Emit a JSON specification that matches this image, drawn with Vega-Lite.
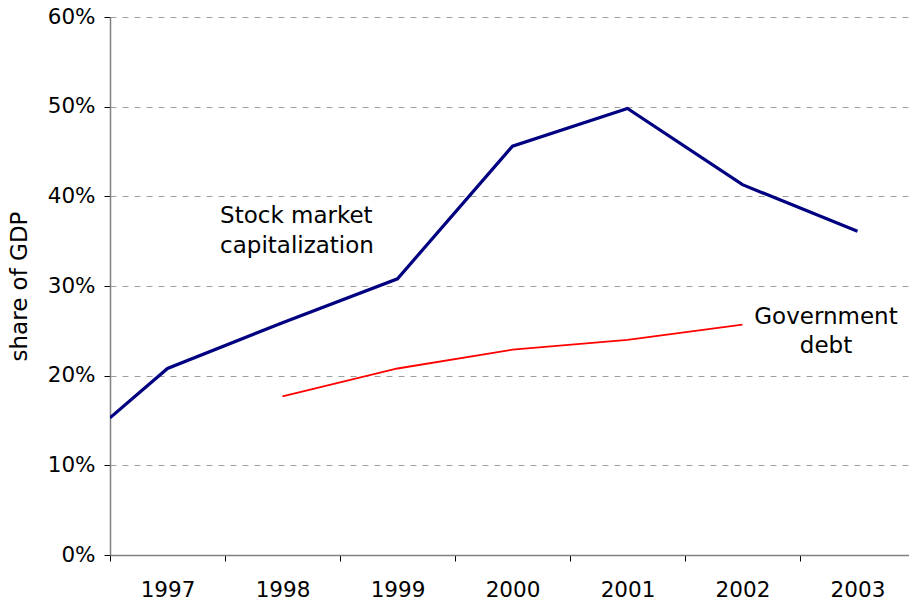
{
  "$schema": "https://vega.github.io/schema/vega-lite/v6.json",
  "width": 799,
  "height": 538,
  "autosize": {"type": "none"},
  "padding": {"left": 110, "top": 17, "right": 0, "bottom": 53},
  "background": "white",
  "config": {
    "view": {"stroke": null},
    "font": "DejaVu Sans"
  },
  "datasets": {
    "lines": [
      {"year": 1996.5, "share": 0.153, "series": "Stock market capitalization"},
      {"year": 1997, "share": 0.208, "series": "Stock market capitalization"},
      {"year": 1998, "share": 0.259, "series": "Stock market capitalization"},
      {"year": 1999, "share": 0.308, "series": "Stock market capitalization"},
      {"year": 2000, "share": 0.456, "series": "Stock market capitalization"},
      {"year": 2001, "share": 0.498, "series": "Stock market capitalization"},
      {"year": 2002, "share": 0.413, "series": "Stock market capitalization"},
      {"year": 2003, "share": 0.361, "series": "Stock market capitalization"},
      {"year": 1998, "share": 0.177, "series": "Government debt"},
      {"year": 1999, "share": 0.208, "series": "Government debt"},
      {"year": 2000, "share": 0.229, "series": "Government debt"},
      {"year": 2001, "share": 0.240, "series": "Government debt"},
      {"year": 2002, "share": 0.257, "series": "Government debt"}
    ],
    "labels": [
      {"year": 1997.457, "share": 0.3703, "text": "Stock market", "align": "left"},
      {"year": 1997.457, "share": 0.3368, "text": "capitalization", "align": "left"},
      {"year": 2002.726, "share": 0.2576, "text": "Government", "align": "center"},
      {"year": 2002.726, "share": 0.2253, "text": "debt", "align": "center"}
    ]
  },
  "layer": [
    {
      "data": {"name": "lines"},
      "mark": {"type": "line", "clip": true},
      "encoding": {
        "x": {
          "field": "year", "type": "quantitative",
          "scale": {"domain": [1996.5, 2003.448], "nice": false, "zero": false},
          "axis": {
            "title": null,
            "values": [1996.5, 1997, 1997.5, 1998, 1998.5, 1999, 1999.5, 2000, 2000.5, 2001, 2001.5, 2002, 2002.5, 2003],
            "labelExpr": "datum.value % 1 === 0 ? '' + datum.value : ''",
            "labelFontSize": 21.5,
            "labelColor": "#000000",
            "labelPadding": 18,
            "labelFlush": false,
            "labelOverlap": false,
            "tickSize": 6,
            "tickColor": "#000000",
            "tickOpacity": {"condition": {"test": "datum.value % 1 === 0", "value": 0}, "value": 1},
            "domainColor": "#808080",
            "domainWidth": 1.5,
            "grid": false
          }
        },
        "y": {
          "field": "share", "type": "quantitative",
          "scale": {"domain": [0, 0.6], "nice": false},
          "axis": {
            "title": "share of GDP",
            "titleFontSize": 23,
            "titleFontWeight": "normal",
            "titleColor": "#000000",
            "titlePadding": 16,
            "values": [0, 0.1, 0.2, 0.3, 0.4, 0.5, 0.6],
            "format": ".0%",
            "labelFontSize": 21.5,
            "labelColor": "#000000",
            "labelPadding": 9,
            "tickSize": 6,
            "tickColor": "#000000",
            "domainColor": "#808080",
            "domainWidth": 1.5,
            "grid": true,
            "gridColor": "#a0a0a0",
            "gridDash": [6, 6],
            "gridWidth": 1,
            "gridOpacity": {"condition": {"test": "datum.value === 0", "value": 0}, "value": 1}
          }
        },
        "color": {
          "field": "series", "type": "nominal",
          "scale": {"domain": ["Stock market capitalization", "Government debt"], "range": ["#000080", "#ff0000"]},
          "legend": null
        },
        "strokeWidth": {
          "field": "series", "type": "nominal",
          "scale": {"domain": ["Stock market capitalization", "Government debt"], "range": [3.2, 1.8]},
          "legend": null
        }
      }
    },
    {
      "data": {"name": "labels"},
      "transform": [{"filter": "datum.align === 'left'"}],
      "mark": {"type": "text", "align": "left", "baseline": "alphabetic", "fontSize": 23, "color": "#000000"},
      "encoding": {
        "x": {"field": "year", "type": "quantitative"},
        "y": {"field": "share", "type": "quantitative"},
        "text": {"field": "text"}
      }
    },
    {
      "data": {"name": "labels"},
      "transform": [{"filter": "datum.align === 'center'"}],
      "mark": {"type": "text", "align": "center", "baseline": "alphabetic", "fontSize": 23, "color": "#000000"},
      "encoding": {
        "x": {"field": "year", "type": "quantitative"},
        "y": {"field": "share", "type": "quantitative"},
        "text": {"field": "text"}
      }
    }
  ]
}
